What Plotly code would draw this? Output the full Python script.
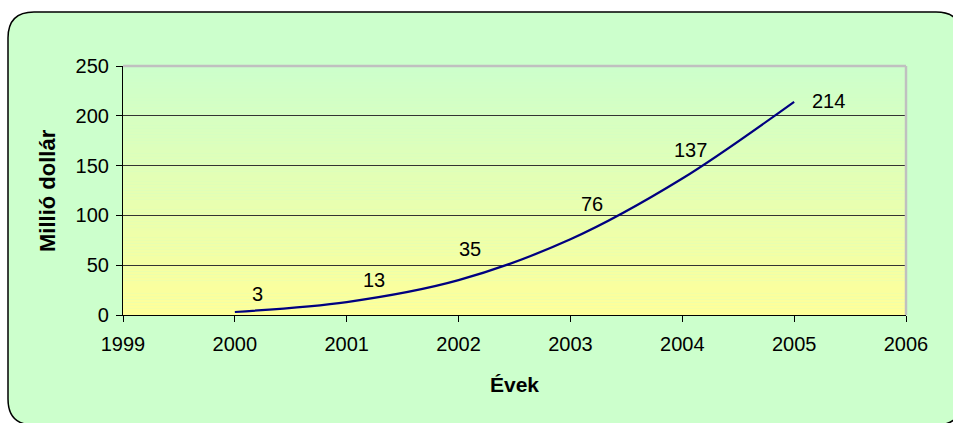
import plotly.graph_objects as go

# Annual values (million dollars)
years = [2000, 2001, 2002, 2003, 2004, 2005]
values = [3, 13, 35, 76, 137, 214]
year_ticks = [1999, 2000, 2001, 2002, 2003, 2004, 2005, 2006]
value_ticks = [0, 50, 100, 150, 200, 250]

# label offsets in pixels (right, up) relative to each point
label_offsets = [(23, 18), (27, 22), (11, 31), (22, 35), (8, 29), (34, 1)]

W, H = 953, 423
L, R, T, B = 123, 47, 66, 108
PW, PH = W - L - R, H - T - B

FONT = "Liberation Sans, Arial, sans-serif"


def px(xp):
    return (xp - L) / PW


def py(yp):
    return (H - B - yp) / PH


fig = go.Figure()

fig.add_trace(go.Scatter(
    x=years, y=values, mode="lines",
    line=dict(color="#000080", width=2.2, shape="spline", smoothing=0.9),
    hoverinfo="x+y", showlegend=False,
))

shapes = []

# rounded outer frame
x0, x1, y0, y1, r = 8, 962, 12, 425, 26
path = (
    f"M {px(x0 + r)},{py(y0)} L {px(x1 - r)},{py(y0)} "
    f"Q {px(x1)},{py(y0)} {px(x1)},{py(y0 + r)} "
    f"L {px(x1)},{py(y1 - r)} Q {px(x1)},{py(y1)} {px(x1 - r)},{py(y1)} "
    f"L {px(x0 + r)},{py(y1)} Q {px(x0)},{py(y1)} {px(x0)},{py(y1 - r)} "
    f"L {px(x0)},{py(y0 + r)} Q {px(x0)},{py(y0)} {px(x0 + r)},{py(y0)} Z"
)
shapes.append(dict(type="path", path=path, xref="paper", yref="paper",
                   fillcolor="#CCFFCC", line=dict(color="black", width=1.5),
                   layer="below"))

# vertical gradient in plot area: green on top, yellow at bottom
n = 80
top = (204, 255, 204)
bot = (255, 255, 153)
for i in range(n):
    t = (i + 0.5) / n
    c = tuple(round(bot[k] + (top[k] - bot[k]) * t) for k in range(3))
    shapes.append(dict(type="rect", xref="paper", yref="paper",
                       x0=0, x1=1, y0=i / n, y1=(i + 1) / n,
                       fillcolor=f"rgb{c}", line=dict(width=0), layer="below"))

# grey top and right border of the plot area
shapes.append(dict(type="line", xref="paper", yref="paper", x0=0, x1=1, y0=1, y1=1,
                   line=dict(color="#C0C0C0", width=2.5)))
shapes.append(dict(type="line", xref="paper", yref="paper", x0=1, x1=1, y0=0, y1=1,
                   line=dict(color="#C0C0C0", width=2.5)))

annotations = []
for yr, v, (dx, dy) in zip(years, values, label_offsets):
    annotations.append(dict(x=yr, y=v, xref="x", yref="y", text=str(v),
                            showarrow=False, xshift=dx, yshift=dy,
                            font=dict(family=FONT, size=20, color="black")))

annotations.append(dict(x=px(47), y=py(191), xref="paper", yref="paper",
                        xanchor="center", yanchor="middle",
                        text="<b>Millió dollár</b>", textangle=-90, showarrow=False,
                        font=dict(family=FONT, size=22, color="black")))
annotations.append(dict(x=0.5, y=py(384), xref="paper", yref="paper",
                        xanchor="center", yanchor="middle",
                        text="<b>Évek</b>", showarrow=False,
                        font=dict(family=FONT, size=21, color="black")))

fig.update_layout(
    width=W, height=H,
    margin=dict(l=L, r=R, t=T, b=B, pad=0),
    paper_bgcolor="white",
    plot_bgcolor="rgba(0,0,0,0)",
    shapes=shapes,
    annotations=annotations,
    font=dict(family=FONT, size=20, color="black"),
    xaxis=dict(range=[1999, 2006], tickvals=year_ticks, ticktext=[str(y) for y in year_ticks],
               showgrid=False, zeroline=False, showline=True, linecolor="black", linewidth=1.2,
               ticks="outside", ticklen=6, tickcolor="black", tickwidth=1.2,
               ticklabelstandoff=5,
               tickfont=dict(family=FONT, size=20)),
    yaxis=dict(range=[0, 250], tickvals=value_ticks,
               showgrid=True, gridcolor="#333333", gridwidth=1, zeroline=False,
               showline=True, linecolor="black", linewidth=1.2,
               ticks="outside", ticklen=6, tickcolor="black", tickwidth=1.2,
               ticklabelstandoff=3,
               tickfont=dict(family=FONT, size=20)),
    hovermode=False,
)

fig.write_html("out.html")
